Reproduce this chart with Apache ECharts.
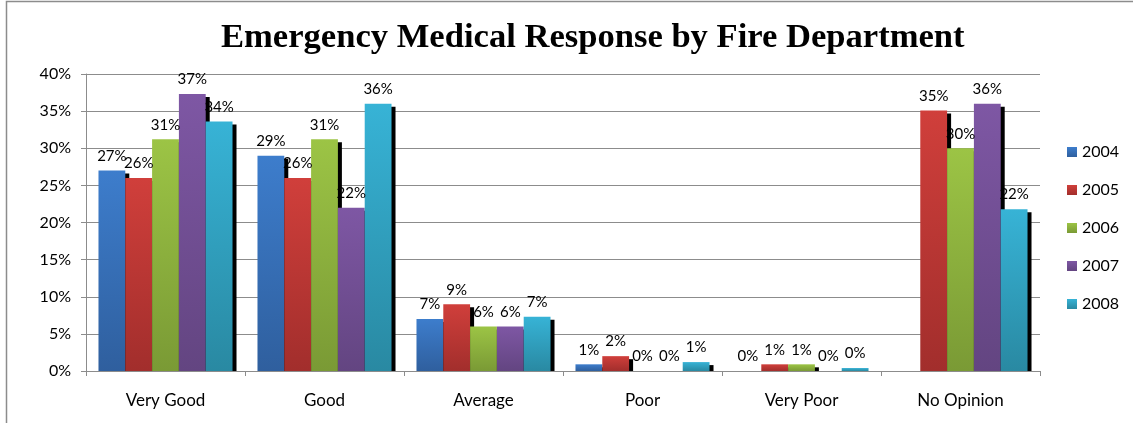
<!DOCTYPE html>
<html>
<head>
<meta charset="utf-8">
<script src="https://cdn.jsdelivr.net/npm/echarts@6/dist/echarts.min.js"></script>
<style>
html,body{margin:0;padding:0;background:#fff;}
#chart{width:1133px;height:423px;}
</style>
</head>
<body>
<div id="chart"></div>
<script>
const categories = ['Very Good', 'Good', 'Average', 'Poor', 'Very Poor', 'No Opinion'];
const years = ['2004', '2005', '2006', '2007', '2008'];
const v2004 = [27, 29, 7, 0.9, 0, null];
const v2005 = [26, 26, 9, 2, 0.9, 35.1];
const v2006 = [31.2, 31.2, 6, 0, 0.9, 30];
const v2007 = [37.3, 22, 6, 0, 0, 36];
const v2008 = [33.6, 36, 7.3, 1.2, 0.4, 21.8];
const seriesValues = [v2004, v2005, v2006, v2007, v2008];
const yMin = 0, yMax = 40, yStep = 5;

const topColors = ['#3d7dcc', '#d03f3b', '#9cc445', '#7e57a4', '#37b3d6'];
const bottomColors = ['#2f5f9e', '#a22e2c', '#7a9a35', '#634581', '#2989a2'];
const FONT = 'Lato, "Open Sans", sans-serif';
const GAP_RATIO = 0.157;

function grad(i) {
  return new echarts.graphic.LinearGradient(0, 0, 0, 1, [
    { offset: 0, color: topColors[i] },
    { offset: 1, color: bottomColors[i] }
  ]);
}

function renderItem(params, api) {
  const si = params.seriesIndex;
  const cat = api.value(0);
  const raw = seriesValues[si][params.dataIndex];
  if (raw === null || raw === undefined) return;
  const base = api.coord([cat, 0]);
  const top = api.coord([cat, raw]);
  const bandW = api.size([1, 0])[0];
  const groupW = bandW * (1 - GAP_RATIO);
  const barW = groupW / years.length;
  const x0 = base[0] - groupW / 2 + si * barW;
  const h = base[1] - top[1];
  const children = [];
  if (h - 3 > 0) {
    children.push({
      type: 'rect',
      shape: { x: x0 + 4, y: top[1] + 3, width: barW, height: h - 3 },
      style: { fill: '#000' },
      z2: 1
    });
  }
  if (h > 0) {
    children.push({
      type: 'rect',
      shape: { x: x0, y: top[1], width: barW, height: h },
      style: { fill: grad(si) },
      z2: 2
    });
  }
  children.push({
    type: 'text',
    style: {
      text: Math.round(raw) + '%',
      x: x0 + barW / 2,
      y: top[1] - 7,
      align: 'center',
      verticalAlign: 'bottom',
      fill: '#000',
      font: '15px ' + FONT
    },
    z2: 100
  });
  return { type: 'group', children: children };
}

const chart = echarts.init(document.getElementById('chart'), null, { renderer: 'canvas' });
chart.setOption({
  animation: false,
  backgroundColor: '#fff',
  title: {
    text: 'Emergency Medical Response by Fire Department',
    left: 216,
    top: 16,
    textStyle: {
      fontFamily: '"Liberation Serif", "Times New Roman", serif',
      fontWeight: 'bold',
      fontSize: 34.6,
      color: '#000'
    }
  },
  graphic: [{
    type: 'rect',
    shape: { x: 6.5, y: 1.5, width: 1200, height: 500 },
    style: { fill: 'none', stroke: '#8c8c8c', lineWidth: 1.5 },
    silent: true
  }],
  legend: {
    orient: 'vertical',
    left: 1062,
    top: 139,
    itemWidth: 10,
    itemHeight: 10,
    itemGap: 22,
    icon: 'rect',
    data: years,
    textStyle: { fontFamily: FONT, fontSize: 16, color: '#000' }
  },
  grid: { left: 86, right: 93, top: 74, bottom: 52, containLabel: false },
  xAxis: {
    type: 'category',
    data: categories,
    boundaryGap: true,
    axisLine: { show: true, lineStyle: { color: '#8c8c8c', width: 1 } },
    axisTick: { show: true, length: 5, lineStyle: { color: '#8c8c8c' } },
    axisLabel: { margin: 21, fontFamily: FONT, fontSize: 17, color: '#000' },
    splitLine: { show: false }
  },
  yAxis: {
    type: 'value',
    min: yMin,
    max: yMax,
    interval: yStep,
    axisLine: { show: true, lineStyle: { color: '#8c8c8c', width: 1 } },
    axisTick: { show: true, length: 5, lineStyle: { color: '#8c8c8c' } },
    axisLabel: { formatter: '{value}%', margin: 15, fontFamily: FONT, fontSize: 16, color: '#000' },
    splitLine: { show: true, lineStyle: { color: '#8c8c8c', width: 1 } }
  },
  series: years.map((y, i) => ({
    name: y,
    type: 'custom',
    renderItem: renderItem,
    itemStyle: { color: grad(i) },
    encode: { x: 0, y: 1 },
    data: seriesValues[i].map((v, j) => [j, v === null ? 0 : v])
  }))
});
</script>
</body>
</html>
